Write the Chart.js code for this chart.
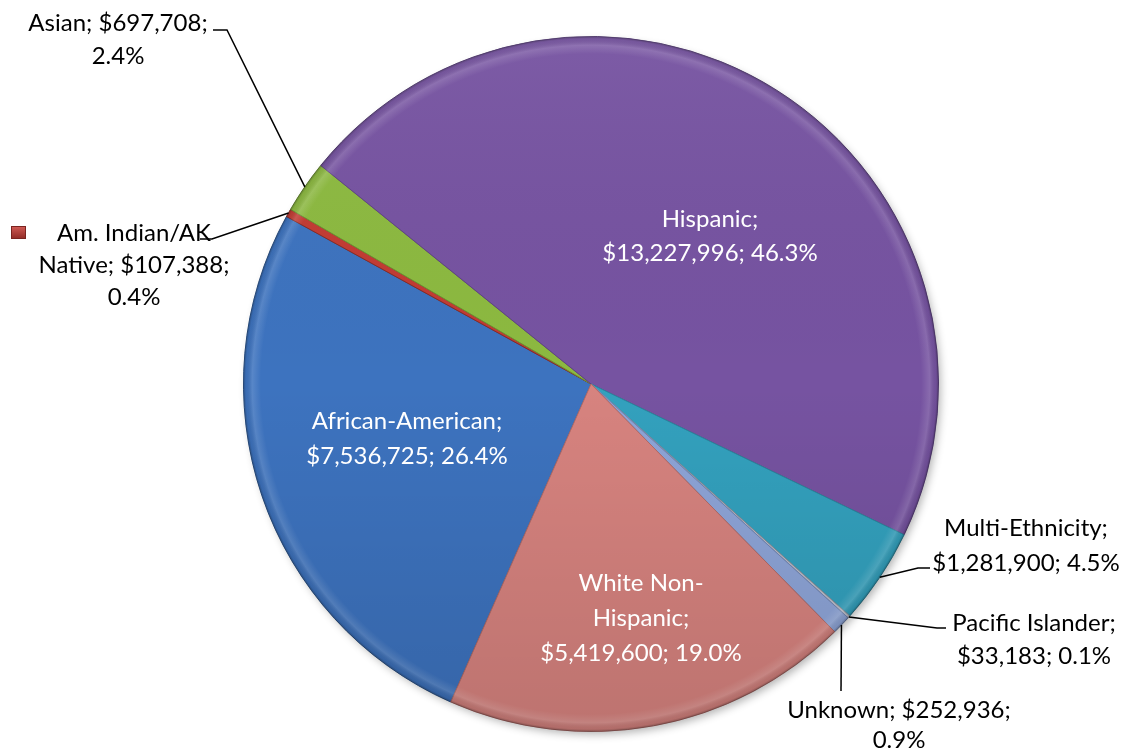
<!DOCTYPE html>
<html><head><meta charset="utf-8">
<script src="https://cdn.jsdelivr.net/npm/chart.js@4/dist/chart.umd.min.js"></script>
<style>html,body{margin:0;padding:0;background:#fff}#wrap{width:1125px;height:753px;position:relative}</style>
</head><body><div id="wrap"><canvas id="c"></canvas></div>
<script>
const categories = ['African-American','Am. Indian/AK Native','Asian','Hispanic','Multi-Ethnicity','Pacific Islander','Unknown','White Non-Hispanic'];
const amounts = [7536725,107388,697708,13227996,1281900,33183,252936,5419600];
const sliceColors = ['#3d73bf','#c23b33','#8cb940','#7653a1','#33a1be','#b9bdc9','#8ea5d8','#d7837f'];
const borderColors = ['#2f5c9a','#8a2a24','#6d9430','#5f4285','#2a869e','#8a8e99','#7085b5','#b36b68'];

const total = amounts.reduce((a,b)=>a+b,0);
const money = amounts.map(v => '$' + v.toLocaleString('en-US'));
const pct = amounts.map(v => (v/total*100).toFixed(1) + '%');

const FONT = '24px Lato, "Open Sans", sans-serif';
const labelLayout = [
  {i:0, color:'#fff', lines:[categories[0]+';', money[0]+'; '+pct[0]], x:407, y:[421,456]},
  {i:1, color:'#000', lines:['Am. Indian/AK','Native; '+money[1]+';', pct[1]], x:134, y:[233,265,297], key:true, leader:[[212,239],[200,239]]},
  {i:2, color:'#000', lines:[categories[2]+'; '+money[2]+';', pct[2]], x:118, y:[23,56], leader:[[227,30],[213,30]]},
  {i:3, color:'#fff', lines:[categories[3]+';', money[3]+'; '+pct[3]], x:710, y:[219,253]},
  {i:4, color:'#000', lines:[categories[4]+';', money[4]+'; '+pct[4]], x:1026, y:[528,563], leader:[[918,568],[930,568]]},
  {i:5, color:'#000', lines:[categories[5]+';', money[5]+'; '+pct[5]], x:1034, y:[623,656], leader:[[937,628],[946,628]]},
  {i:6, color:'#000', lines:[categories[6]+'; '+money[6]+';', pct[6]], x:899, y:[710,740], leader:[[841,691]]},
  {i:7, color:'#fff', lines:['White Non-','Hispanic;', money[7]+'; '+pct[7]], x:641, y:[583,618,653]}
];

const effects = {
  id:'effects',
  beforeDatasetsDraw(chart){
    const el = chart.getDatasetMeta(0).data[0];
    if(!el) return;
    const {x,y,outerRadius} = el.getProps(['x','y','outerRadius'],true);
    const ctx = chart.ctx;
    ctx.save();
    ctx.shadowColor='rgba(0,0,0,0.3)';
    ctx.shadowBlur=9; ctx.shadowOffsetX=3; ctx.shadowOffsetY=4;
    ctx.beginPath(); ctx.arc(x,y,outerRadius-1,0,Math.PI*2); ctx.fillStyle='#888'; ctx.fill();
    ctx.restore();
  },
  afterDatasetsDraw(chart){
    const meta = chart.getDatasetMeta(0);
    const el0 = meta.data[0];
    const {x,y,outerRadius:r} = el0.getProps(['x','y','outerRadius'],true);
    const ctx = chart.ctx;
    ctx.save();
    ctx.beginPath(); ctx.arc(x,y,r+0.5,0,Math.PI*2); ctx.clip();
    const g = ctx.createRadialGradient(x,y,0,x,y,r);
    g.addColorStop(0,'rgba(255,255,255,0)');
    g.addColorStop(0.95,'rgba(255,255,255,0)');
    g.addColorStop(0.975,'rgba(255,255,255,0.14)');
    g.addColorStop(0.993,'rgba(0,0,0,0.06)');
    g.addColorStop(1,'rgba(0,0,0,0.25)');
    ctx.fillStyle=g; ctx.fillRect(x-r-2,y-r-2,2*r+4,2*r+4);
    const lg = ctx.createLinearGradient(0,y-r,0,y+r);
    lg.addColorStop(0,'rgba(255,255,255,0.05)');
    lg.addColorStop(0.5,'rgba(0,0,0,0)');
    lg.addColorStop(1,'rgba(0,0,0,0.12)');
    ctx.fillStyle=lg; ctx.fillRect(x-r-2,y-r-2,2*r+4,2*r+4);
    ctx.restore();

    ctx.save();
    ctx.font = FONT;
    ctx.textAlign='center'; ctx.textBaseline='middle';
    labelLayout.forEach(L=>{
      const el = meta.data[L.i];
      const p = el.getProps(['x','y','startAngle','endAngle','outerRadius'],true);
      const mid = (p.startAngle+p.endAngle)/2;
      if(L.leader){
        ctx.beginPath();
        ctx.moveTo(p.x+Math.cos(mid)*p.outerRadius, p.y+Math.sin(mid)*p.outerRadius);
        L.leader.forEach(pt=>ctx.lineTo(pt[0],pt[1]));
        ctx.strokeStyle='#000'; ctx.lineWidth=1.5; ctx.stroke();
      }
      ctx.fillStyle=L.color;
      L.lines.forEach((t,k)=>ctx.fillText(t,L.x,L.y[k]));
      if(L.key){
        const kg = ctx.createLinearGradient(0,225,0,239);
        kg.addColorStop(0,'#d9605a'); kg.addColorStop(1,'#8e2a25');
        ctx.fillStyle=kg; ctx.fillRect(11,226,15,13);
        ctx.strokeStyle='#7a2420'; ctx.lineWidth=1; ctx.strokeRect(11.5,226.5,14,12);
      }
    });
    ctx.restore();
  }
};

new Chart(document.getElementById('c'), {
  type:'pie',
  data:{ labels:categories, datasets:[{ data:amounts, backgroundColor:sliceColors, borderColor:borderColors, borderWidth:1 }]},
  options:{
    responsive:true, maintainAspectRatio:false, animation:false,
    rotation:203.8,
    layout:{padding:{left:243,right:186,top:36,bottom:21}},
    plugins:{legend:{display:false},tooltip:{enabled:false}}
  },
  plugins:[effects]
});
</script>
</body></html>
